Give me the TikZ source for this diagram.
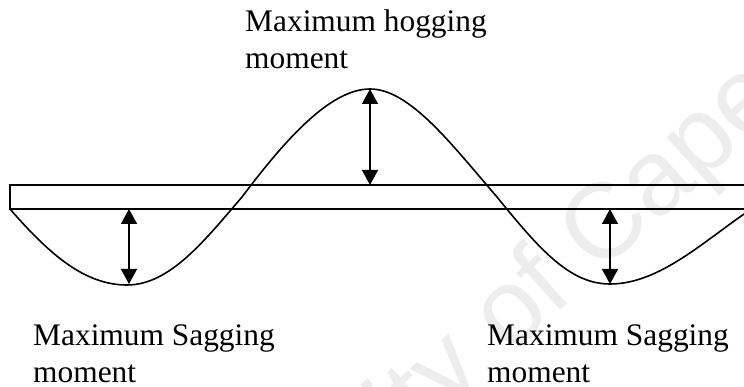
\documentclass[tikz,border=0pt]{standalone}
\usepackage{fontspec}
\setmainfont{Liberation Serif}
\setsansfont{Liberation Sans}
\usetikzlibrary{arrows.meta}
\definecolor{wm}{gray}{0.93}
\tikzset{
  x=1pt,y=-1pt,
  lbl/.style={anchor=base west,inner sep=0pt,align=left,font=\fontsize{31.4}{37}\selectfont},
  beam/.style={line width=1.6pt,black},
  moment/.style={line width=1.6pt,black},
  dim/.style={line width=1.6pt,black,{Triangle[width=16pt,length=15pt]}-{Triangle[width=16pt,length=15pt]}},
  mark text/.style={anchor=base west,inner sep=0pt,rotate=42,text=wm,font=\sffamily\fontsize{107}{107}\selectfont},
}
\begin{document}
\begin{tikzpicture}
\useasboundingbox (0,0) rectangle (744,387);
\coordinate (tl) at (10,185);
\coordinate (tr) at (750,185);
\coordinate (bl) at (10,209);
\coordinate (br) at (750,209);
\coordinate (t1) at (127,285);
\coordinate (c1) at (242,197);
\coordinate (p) at (370,89);
\coordinate (c2) at (497,197);
\coordinate (t2) at (610,284);
\coordinate (e) at (750,210);
\begin{scope}
\clip (0,0) rectangle (744,387);
\node[mark text] (wm) at (598,276) {Cape};
\node[mark text,anchor=base east] (wm2) at (576,296) {University of};
\draw[beam] (tr) -- (tl) -- (bl) -- (br);
\draw[moment] (bl) .. controls (50,255) and (85,285) .. (t1)
  .. controls (170,285) and (205,240) .. (c1)
  .. controls (285,140) and (330,89) .. (p)
  .. controls (410,89) and (452,145) .. (c2)
  .. controls (540,250) and (570,284) .. (t2)
  .. controls (660,284) and (705,240) .. (e);
\end{scope}
\coordinate (a1t) at (129,209); \coordinate (a1b) at (129,284);
\coordinate (a2t) at (370,89);  \coordinate (a2b) at (370,185);
\coordinate (a3t) at (610,209); \coordinate (a3b) at (610,284);
\draw[dim] (a1t) -- (a1b);
\draw[dim] (a2t) -- (a2b);
\draw[dim] (a3t) -- (a3b);
\node[lbl] (hog) at (245,69) {Maximum hogging\\moment};
\node[lbl] (sag1) at (33,382) {Maximum Sagging\\moment};
\node[lbl] (sag2) at (487,382) {Maximum Sagging\\moment};
\end{tikzpicture}
\end{document}
